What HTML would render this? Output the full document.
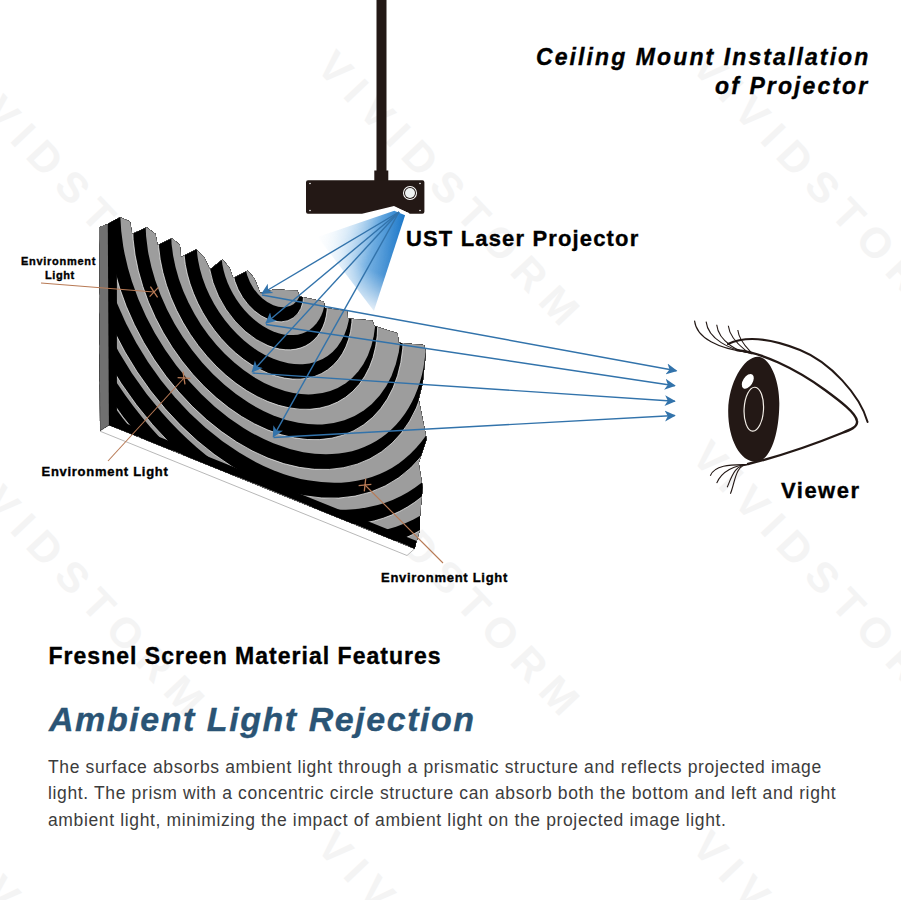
<!DOCTYPE html>
<html><head><meta charset="utf-8"><style>
html,body{margin:0;padding:0;background:#fff;width:901px;height:900px;overflow:hidden}
svg{display:block}
</style></head><body>
<svg width="901" height="900" viewBox="0 0 901 900">
<rect width="901" height="900" fill="#fff"/>
<text x="-60" y="68" transform="rotate(46.6 -60 68)" font-family='"Liberation Sans", sans-serif' font-size="42" font-weight="bold" fill="#f4f4f4" letter-spacing="10.8">VIVIDSTORM</text><text x="-60" y="458" transform="rotate(46.6 -60 458)" font-family='"Liberation Sans", sans-serif' font-size="42" font-weight="bold" fill="#f4f4f4" letter-spacing="10.8">VIVIDSTORM</text><text x="-60" y="848" transform="rotate(46.6 -60 848)" font-family='"Liberation Sans", sans-serif' font-size="42" font-weight="bold" fill="#f4f4f4" letter-spacing="10.8">VIVIDSTORM</text><text x="315" y="68" transform="rotate(46.6 315 68)" font-family='"Liberation Sans", sans-serif' font-size="42" font-weight="bold" fill="#f4f4f4" letter-spacing="10.8">VIVIDSTORM</text><text x="315" y="458" transform="rotate(46.6 315 458)" font-family='"Liberation Sans", sans-serif' font-size="42" font-weight="bold" fill="#f4f4f4" letter-spacing="10.8">VIVIDSTORM</text><text x="315" y="848" transform="rotate(46.6 315 848)" font-family='"Liberation Sans", sans-serif' font-size="42" font-weight="bold" fill="#f4f4f4" letter-spacing="10.8">VIVIDSTORM</text><text x="690" y="68" transform="rotate(46.6 690 68)" font-family='"Liberation Sans", sans-serif' font-size="42" font-weight="bold" fill="#f4f4f4" letter-spacing="10.8">VIVIDSTORM</text><text x="690" y="458" transform="rotate(46.6 690 458)" font-family='"Liberation Sans", sans-serif' font-size="42" font-weight="bold" fill="#f4f4f4" letter-spacing="10.8">VIVIDSTORM</text><text x="690" y="848" transform="rotate(46.6 690 848)" font-family='"Liberation Sans", sans-serif' font-size="42" font-weight="bold" fill="#f4f4f4" letter-spacing="10.8">VIVIDSTORM</text>
<defs>
<linearGradient id="beam" gradientUnits="userSpaceOnUse" x1="396" y1="250" x2="330" y2="270">
  <stop offset="0" stop-color="#1e78c8"/>
  <stop offset="1" stop-color="#ffffff" stop-opacity="0"/>
</linearGradient>
<linearGradient id="beamfade" gradientUnits="userSpaceOnUse" x1="400" y1="212" x2="330" y2="300">
  <stop offset="0" stop-color="#fff" stop-opacity="0"/>
  <stop offset="1" stop-color="#fff" stop-opacity="1"/>
</linearGradient>
<marker id="ah" markerWidth="12" markerHeight="12" refX="10" refY="6" orient="auto" markerUnits="userSpaceOnUse">
  <path d="M0,0.5 L11,6 L0,11.5 L3,6 Z" fill="#3273ab"/>
</marker>
<marker id="oh" markerWidth="12" markerHeight="12" refX="6" refY="6" orient="auto" markerUnits="userSpaceOnUse">
  <path d="M2,1 L10,11 M10,1 L2,11" stroke="#b87a55" stroke-width="1.3" fill="none"/>
</marker>
</defs><rect x="376.5" y="0" width="10" height="172" fill="#231815"/><rect x="374.3" y="170.5" width="14" height="10.5" fill="#231815"/><path d="M308,180.2 H422.4 Q424.4,180.2 424.4,182.2 V211.7 Q424.4,213.7 422.4,213.7 H410 L394,206 L362,213.7 H308 Q306,213.7 306,211.7 V182.2 Q306,180.2 308,180.2 Z" fill="#231815"/><circle cx="310" cy="183.5" r="0.8" fill="#fff"/><circle cx="420" cy="183.5" r="0.8" fill="#fff"/><circle cx="310" cy="210.5" r="0.8" fill="#fff"/><circle cx="420" cy="210.5" r="0.8" fill="#fff"/><circle cx="410" cy="193" r="7" fill="#fff"/><circle cx="410" cy="193" r="6" fill="#231815"/><circle cx="410" cy="193" r="5" fill="#eef2f2"/><path d="M394.5,207.5 L409,213.5" stroke="#fff" stroke-width="1" fill="none"/><defs>
<linearGradient id="bacross" gradientUnits="userSpaceOnUse" x1="392" y1="255" x2="311" y2="229">
 <stop offset="0" stop-color="#1976c8"/>
 <stop offset="0.25" stop-color="#3a8fd6" stop-opacity="0.85"/>
 <stop offset="0.6" stop-color="#8cc0ea" stop-opacity="0.35"/>
 <stop offset="1" stop-color="#ffffff" stop-opacity="0"/>
</linearGradient>
<radialGradient id="balong" gradientUnits="userSpaceOnUse" cx="400" cy="212" r="108">
 <stop offset="0" stop-color="#fff" stop-opacity="1"/>
 <stop offset="0.6" stop-color="#fff" stop-opacity="0.8"/>
 <stop offset="1" stop-color="#fff" stop-opacity="0"/>
</radialGradient>
<mask id="bmask" maskUnits="userSpaceOnUse" x="0" y="0" width="901" height="900"><rect x="0" y="0" width="901" height="900" fill="url(#balong)"/></mask>
</defs>
<path d="M394.3,210.7 L405.1,215.2 L373.9,311 L317.7,237 Z" fill="url(#bacross)" mask="url(#bmask)"/>
<clipPath id="scr"><path d="M99.3,227.2 L107.8,223.9 L120.0,217.2 L130.0,221.6 L132.2,233.9 L146.6,227.2 L155.5,233.9 L157.7,245.0 L172.1,238.3 L179.9,245.0 L181.0,257.2 L196.1,249.4 L204.3,257.2 L209.9,269.4 L222.5,259.4 L229.8,268.3 L233.2,278.3 L247.6,270.5 L254.3,278.3 L260.5,293.2 L273.2,289.4 L297.4,290.5 L299.6,296.4 L323.8,301.6 L324.9,308.0 L347.0,311.1 L348.0,318.5 L372.3,320.6 L374.4,325.9 L397.6,333.3 L398.7,342.8 L424.0,344.9 L426.0,352.0 L422.7,383.3 L418.7,399.3 L426.7,439.3 L418.7,463.3 L422.7,487.3 L420.0,516.7 L420.0,530.0 L416.0,543.3 L414.7,548.7 L109.0,425.0 L100.0,430.5 Z"/></clipPath><path d="M100,431.2 L109,425 L414.7,548.7 L407,555.5 Z" fill="#fff" stroke="#b0b0b0" stroke-width="0.9"/><path d="M99.3,227.2 L107.8,223.9 L120.0,217.2 L130.0,221.6 L132.2,233.9 L146.6,227.2 L155.5,233.9 L157.7,245.0 L172.1,238.3 L179.9,245.0 L181.0,257.2 L196.1,249.4 L204.3,257.2 L209.9,269.4 L222.5,259.4 L229.8,268.3 L233.2,278.3 L247.6,270.5 L254.3,278.3 L260.5,293.2 L273.2,289.4 L297.4,290.5 L299.6,296.4 L323.8,301.6 L324.9,308.0 L347.0,311.1 L348.0,318.5 L372.3,320.6 L374.4,325.9 L397.6,333.3 L398.7,342.8 L424.0,344.9 L426.0,352.0 L422.7,383.3 L418.7,399.3 L426.7,439.3 L418.7,463.3 L422.7,487.3 L420.0,516.7 L420.0,530.0 L416.0,543.3 L414.7,548.7 L109.0,425.0 L100.0,430.5 Z" fill="#000"/><g clip-path="url(#scr)"><g transform="matrix(1,0.4049,0,1.1116,267.95,279.52)"><circle cx="0" cy="0" r="256.31" fill="#000"/><ellipse cx="5.40" cy="-7.04" rx="248.66" ry="247.57" fill="#9d9d9d"/><circle cx="0" cy="0" r="271.28" fill="#000"/><ellipse cx="5.40" cy="-7.04" rx="263.62" ry="262.47" fill="#9d9d9d"/><circle cx="0" cy="0" r="279.90" fill="#000"/><ellipse cx="5.40" cy="-7.04" rx="272.24" ry="271.04" fill="#9d9d9d"/><circle cx="0" cy="0" r="282.71" fill="#000"/><ellipse cx="5.40" cy="-7.04" rx="275.04" ry="273.84" fill="#9d9d9d"/><circle cx="0" cy="0" r="280.24" fill="#000"/><ellipse cx="5.40" cy="-7.04" rx="272.57" ry="271.38" fill="#9d9d9d"/><circle cx="0" cy="0" r="273.03" fill="#000"/><ellipse cx="5.40" cy="-7.04" rx="265.38" ry="264.21" fill="#9d9d9d"/><circle cx="0" cy="0" r="261.64" fill="#000"/><ellipse cx="5.40" cy="-7.04" rx="253.99" ry="252.88" fill="#9d9d9d"/><circle cx="0" cy="0" r="246.59" fill="#000"/><ellipse cx="5.40" cy="-7.04" rx="238.95" ry="237.90" fill="#9d9d9d"/><circle cx="0" cy="0" r="228.42" fill="#000" stroke="#fff" stroke-opacity="0.85" stroke-width="0.7"/><ellipse cx="5.40" cy="-7.04" rx="220.80" ry="219.83" fill="#9d9d9d"/><circle cx="0" cy="0" r="207.69" fill="#000" stroke="#fff" stroke-opacity="0.85" stroke-width="0.7"/><ellipse cx="5.40" cy="-7.04" rx="200.08" ry="199.20" fill="#9d9d9d"/><circle cx="0" cy="0" r="184.92" fill="#000" stroke="#fff" stroke-opacity="0.85" stroke-width="0.7"/><ellipse cx="5.40" cy="-7.04" rx="177.32" ry="176.55" fill="#9d9d9d"/><circle cx="0" cy="0" r="160.65" fill="#000" stroke="#fff" stroke-opacity="0.85" stroke-width="0.7"/><ellipse cx="5.40" cy="-7.04" rx="153.08" ry="152.41" fill="#9d9d9d"/><circle cx="0" cy="0" r="135.43" fill="#000" stroke="#fff" stroke-opacity="0.85" stroke-width="0.7"/><ellipse cx="5.40" cy="-7.04" rx="127.88" ry="127.32" fill="#9d9d9d"/><circle cx="0" cy="0" r="109.80" fill="#000" stroke="#fff" stroke-opacity="0.85" stroke-width="0.7"/><ellipse cx="5.40" cy="-7.04" rx="102.27" ry="101.82" fill="#9d9d9d"/><circle cx="0" cy="0" r="84.29" fill="#000" stroke="#fff" stroke-opacity="0.85" stroke-width="0.7"/><ellipse cx="5.40" cy="-7.04" rx="76.78" ry="76.44" fill="#9d9d9d"/><circle cx="0" cy="0" r="59.46" fill="#000" stroke="#fff" stroke-opacity="0.85" stroke-width="0.7"/><ellipse cx="5.40" cy="-7.04" rx="51.96" ry="51.73" fill="#9d9d9d"/><circle cx="0" cy="0" r="35.82" fill="#000" stroke="#fff" stroke-opacity="0.85" stroke-width="0.7"/><ellipse cx="5.40" cy="-7.04" rx="28.34" ry="28.22" fill="#9d9d9d"/></g><rect x="105" y="210" width="11.9" height="230" fill="#000"/><path d="M105,423 L416,549 L418,541.5 L105,415 Z" fill="#000"/></g><path d="M99.3,227.2 L107.8,223.9 L108.9,425 L100.2,430.5 Z" fill="#707070"/>
<line x1="399" y1="212" x2="262" y2="293.5" stroke="#3273ab" stroke-width="1.4" marker-end="url(#ah)"/><line x1="262" y1="295" x2="676.4" y2="370.7" stroke="#3273ab" stroke-width="1.4" marker-end="url(#ah)"/><line x1="399" y1="212" x2="266" y2="323" stroke="#3273ab" stroke-width="1.4" marker-end="url(#ah)"/><line x1="266" y1="324.5" x2="674.8" y2="385.7" stroke="#3273ab" stroke-width="1.4" marker-end="url(#ah)"/><line x1="399" y1="212" x2="252.2" y2="371.7" stroke="#3273ab" stroke-width="1.4" marker-end="url(#ah)"/><line x1="252.5" y1="373" x2="674.8" y2="401.3" stroke="#3273ab" stroke-width="1.4" marker-end="url(#ah)"/><line x1="399" y1="212" x2="273.3" y2="436.7" stroke="#3273ab" stroke-width="1.4" marker-end="url(#ah)"/><line x1="273.5" y1="437.5" x2="674.8" y2="415.5" stroke="#3273ab" stroke-width="1.4" marker-end="url(#ah)"/><line x1="41" y1="283" x2="154" y2="292" stroke="#b87a55" stroke-width="1.1" marker-end="url(#oh)"/><line x1="108" y1="461" x2="184" y2="378" stroke="#b87a55" stroke-width="1.1" marker-end="url(#oh)"/><line x1="443" y1="563" x2="365" y2="485" stroke="#b87a55" stroke-width="1.1" marker-end="url(#oh)"/>
<path d="M759,356.8 C771,359 779.8,382 779.3,405 C778.8,434 771,459 757.5,461.8 C741,463.5 727.8,440 728.2,410 C728.6,383 744,355.5 759,356.8 Z" fill="#231815"/><ellipse cx="747.8" cy="381.3" rx="4.8" ry="8.2" transform="rotate(33 747.8 381.3)" fill="#fff"/><ellipse cx="753.8" cy="409.2" rx="9.7" ry="22" transform="rotate(3 753.7 409.3)" fill="none" stroke="#f4efe8" stroke-width="1.2"/><path d="M736.7,350.1 C760,352 795,368 825,390 C840,401 856,413 857,421 C858,427 850,430 842,433 C815,444 785,455 748,464" fill="none" stroke="#231815" stroke-width="2.4" stroke-linecap="round"/><path d="M728,344 C745,336 770,338 800,350 C830,362 860,395 867.6,422" fill="none" stroke="#231815" stroke-width="2" stroke-linecap="round"/><path d="M694.5,320.6 C696.5,338.6 719.5,348.6 746,352" fill="none" stroke="#231815" stroke-width="1.1"/><path d="M706.1,321.6 C708.1,339.6 731.1,349.6 746,352" fill="none" stroke="#231815" stroke-width="1.1"/><path d="M716.7,324.8 C718.7,342.8 741.7,352.8 746,352" fill="none" stroke="#231815" stroke-width="1.1"/><path d="M728.3,325.8 C730.3,343.8 753.3,353.8 746,352" fill="none" stroke="#231815" stroke-width="1.1"/><path d="M737.8,330 C739.8,348 762.8,358 746,352" fill="none" stroke="#231815" stroke-width="1.1"/><path d="M748,464.5 C735,465 715.3,463.7 710.3,475.7" fill="none" stroke="#231815" stroke-width="1.1"/><path d="M748,464.5 C735,465 721.7,471.1 716.7,483.1" fill="none" stroke="#231815" stroke-width="1.1"/><path d="M748,464.5 C735,465 732.2,475.3 727.2,487.3" fill="none" stroke="#231815" stroke-width="1.1"/><path d="M748,464.5 C735,465 735.4,481.7 730.4,493.7" fill="none" stroke="#231815" stroke-width="1.1"/>
<text x="536" y="64.7" font-family='"Liberation Sans", sans-serif' font-size="23" font-weight="bold" font-style="italic" fill="#000" stroke="#000" stroke-width="0.35" letter-spacing="2.1" text-anchor="start">Ceiling Mount Installation</text><text x="715" y="94" font-family='"Liberation Sans", sans-serif' font-size="23" font-weight="bold" font-style="italic" fill="#000" stroke="#000" stroke-width="0.35" letter-spacing="2.1" text-anchor="start">of Projector</text><text x="406" y="245.7" font-family='"Liberation Sans", sans-serif' font-size="22" font-weight="bold" font-style="normal" fill="#000" stroke="#000" stroke-width="0.35" letter-spacing="1.15" text-anchor="start">UST Laser Projector</text><text x="21" y="264.7" font-family='"Liberation Sans", sans-serif' font-size="11" font-weight="bold" font-style="normal" fill="#000" stroke="#000" stroke-width="0.35" letter-spacing="0.72" text-anchor="start">Environment</text><text x="45" y="279" font-family='"Liberation Sans", sans-serif' font-size="11" font-weight="bold" font-style="normal" fill="#000" stroke="#000" stroke-width="0.35" letter-spacing="0.6" text-anchor="start">Light</text><text x="41.5" y="475.8" font-family='"Liberation Sans", sans-serif' font-size="13" font-weight="bold" font-style="normal" fill="#000" stroke="#000" stroke-width="0.35" letter-spacing="0.72" text-anchor="start">Environment Light</text><text x="381" y="582" font-family='"Liberation Sans", sans-serif' font-size="13" font-weight="bold" font-style="normal" fill="#000" stroke="#000" stroke-width="0.35" letter-spacing="0.72" text-anchor="start">Environment Light</text><text x="781" y="497.6" font-family='"Liberation Sans", sans-serif' font-size="22" font-weight="bold" font-style="normal" fill="#000" stroke="#000" stroke-width="0.35" letter-spacing="1.5" text-anchor="start">Viewer</text><text x="48.5" y="663.8" font-family='"Liberation Sans", sans-serif' font-size="23" font-weight="bold" font-style="normal" fill="#000" stroke="#000" stroke-width="0.35" letter-spacing="1.02" text-anchor="start">Fresnel Screen Material Features</text><text x="49" y="730.6" font-family='"Liberation Sans", sans-serif' font-size="34" font-weight="bold" font-style="italic" fill="#2a5475" stroke="#2a5475" stroke-width="0.35" letter-spacing="1.55" text-anchor="start">Ambient Light Rejection</text><text x="48" y="772.8" font-family='"Liberation Sans", sans-serif' font-size="17.5" font-weight="normal" font-style="normal" fill="#3c3c3c" letter-spacing="0.64" text-anchor="start">The surface absorbs ambient light through a prismatic structure and reflects projected image</text><text x="48" y="799.4" font-family='"Liberation Sans", sans-serif' font-size="17.5" font-weight="normal" font-style="normal" fill="#3c3c3c" letter-spacing="0.64" text-anchor="start">light. The prism with a concentric circle structure can absorb both the bottom and left and right</text><text x="48" y="825.5" font-family='"Liberation Sans", sans-serif' font-size="17.5" font-weight="normal" font-style="normal" fill="#3c3c3c" letter-spacing="0.64" text-anchor="start">ambient light, minimizing the impact of ambient light on the projected image light.</text>
</svg>
</body></html>
